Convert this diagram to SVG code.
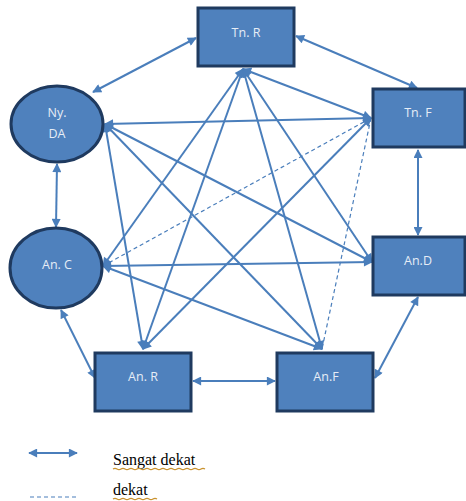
<svg xmlns="http://www.w3.org/2000/svg" width="466" height="501" viewBox="0 0 466 501">
<style>
.node{fill:#4f81bd;stroke:#1f3a5f;stroke-width:3}
.lbl{font-family:"Open Sans","Liberation Sans",sans-serif;font-size:12.5px;fill:#e6edf6;text-anchor:middle}
.c{stroke:#4a7ebb;stroke-width:2;fill:none;marker-start:url(#ah);marker-end:url(#ah)}
.d{stroke:#4a7ebb;stroke-width:1.2;fill:none;stroke-dasharray:4 3}
.leg{font-family:"Liberation Serif","Times New Roman",serif;font-size:16px;fill:#000}
.ul{stroke:#c9922e;stroke-width:1.3;fill:none}
</style>
<defs>
<marker id="ah" viewBox="0 0 10 10" refX="9" refY="5" markerWidth="11" markerHeight="9" markerUnits="userSpaceOnUse" orient="auto-start-reverse">
<path d="M0,0 L10,5 L0,10 z" fill="#4a7ebb"/>
</marker>
</defs>
<g id="connectors">
<line class="c" x1="196" y1="38" x2="93" y2="92"/>
<line class="c" x1="296" y1="36" x2="417" y2="88"/>
<line class="c" x1="57" y1="164" x2="56" y2="227"/>
<line class="c" x1="418" y1="150" x2="418" y2="235"/>
<line class="c" x1="61" y1="310" x2="95" y2="378"/>
<line class="c" x1="193" y1="381" x2="275" y2="381"/>
<line class="c" x1="418" y1="297" x2="375" y2="378"/>
<line class="c" x1="243" y1="69" x2="103" y2="266"/>
<line class="c" x1="243" y1="69" x2="143" y2="349"/>
<line class="c" x1="243" y1="69" x2="322" y2="349"/>
<line class="c" x1="243" y1="69" x2="372" y2="262"/>
<line class="c" x1="243" y1="69" x2="371" y2="118"/>
<line class="c" x1="105" y1="124" x2="371" y2="118"/>
<line class="c" x1="105" y1="124" x2="372" y2="262"/>
<line class="c" x1="105" y1="124" x2="322" y2="349"/>
<line class="c" x1="105" y1="124" x2="143" y2="349"/>
<line class="c" x1="103" y1="266" x2="372" y2="262"/>
<line class="c" x1="103" y1="266" x2="322" y2="349"/>
<line class="c" x1="371" y1="118" x2="143" y2="349"/>
<line class="d" x1="103" y1="266" x2="371" y2="118"/>
<line class="d" x1="371" y1="118" x2="322" y2="349"/>
</g>
<g id="TnR"><rect class="node" x="198" y="8" width="96" height="58"/><text class="lbl" x="246" y="37">Tn. R</text></g>
<g id="NyDA"><ellipse class="node" cx="57" cy="124" rx="46" ry="38"/><text class="lbl" x="57" y="117">Ny.</text><text class="lbl" x="57" y="138">DA</text></g>
<g id="TnF"><rect class="node" x="373" y="89" width="92" height="58"/><text class="lbl" x="418" y="117">Tn. F</text></g>
<g id="AnC"><ellipse class="node" cx="56" cy="268" rx="46" ry="40"/><text class="lbl" x="57" y="269">An. C</text></g>
<g id="AnD"><rect class="node" x="373" y="237" width="92" height="58"/><text class="lbl" x="418" y="265">An.D</text></g>
<g id="AnR"><rect class="node" x="95" y="353" width="96" height="58"/><text class="lbl" x="143" y="381">An. R</text></g>
<g id="AnF"><rect class="node" x="277" y="353" width="96" height="58"/><text class="lbl" x="326" y="381">An.F</text></g>
<g id="legend">
<line class="c" x1="29" y1="453" x2="77" y2="453"/>
<text class="leg" x="113" y="465">Sangat dekat</text>
<path class="ul" d="M113,469 q2,-1.2 4,0 t4,0 t4,0 t4,0 t4,0 t4,0 t4,0 t4,0 t4,0 t4,0 t4,0 t4,0 t4,0 t4,0 t4,0 t4,0 t4,0 t4,0 t4,0 t4,0 t4,0 t4,0 t4,0"/>
<line class="d" x1="30" y1="497" x2="76" y2="497" stroke="#8fb0db"/>
<text class="leg" x="113" y="495">dekat</text>
<path class="ul" d="M113,499 q2,-1.2 4,0 t4,0 t4,0 t4,0 t4,0 t4,0 t4,0 t4,0 t4,0 t4,0 t4,0"/>
</g>
</svg>
